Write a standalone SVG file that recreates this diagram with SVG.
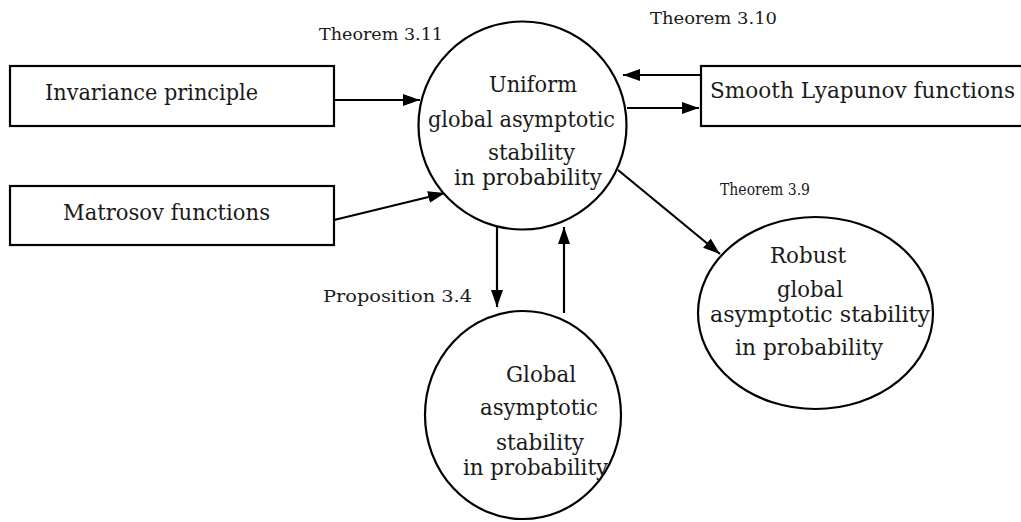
<svg xmlns="http://www.w3.org/2000/svg" width="1021" height="522" viewBox="0 0 1021 522">
<style>
.node{fill:#fff;stroke:#000;stroke-width:2.2}
.t{font-family:"DejaVu Serif","Liberation Serif",serif;font-size:23px;fill:#1a1a1a}
.l{font-family:"DejaVu Serif","Liberation Serif",serif;font-size:16px;fill:#1a1a1a}
.e{fill:none;stroke:#000;stroke-width:2.2}
</style>
<defs>
<marker id="ah" markerUnits="userSpaceOnUse" markerWidth="17" markerHeight="12" refX="17" refY="6" orient="auto">
<path d="M0,0 L17,6 L0,12 z" fill="#000"/>
</marker>
</defs>
<rect width="1021" height="522" fill="#fff"/>
<g id="connectors">
<line class="e" x1="334" y1="100" x2="420" y2="100" marker-end="url(#ah)"/>
<line class="e" x1="334" y1="220" x2="445" y2="193" marker-end="url(#ah)"/>
<line class="e" x1="701" y1="75" x2="623" y2="75" marker-end="url(#ah)"/>
<line class="e" x1="627" y1="108" x2="699" y2="108" marker-end="url(#ah)"/>
<line class="e" x1="618" y1="170" x2="720" y2="254" marker-end="url(#ah)"/>
<line class="e" x1="497" y1="227" x2="497" y2="307" marker-end="url(#ah)"/>
<line class="e" x1="564" y1="313" x2="564" y2="227" marker-end="url(#ah)"/>
</g>
<g id="labels">
<text class="l" x="319" y="40" textLength="124" lengthAdjust="spacingAndGlyphs">Theorem 3.11</text>
<text class="l" x="650" y="24" textLength="127" lengthAdjust="spacingAndGlyphs">Theorem 3.10</text>
<text class="l" x="720" y="195" textLength="90" lengthAdjust="spacingAndGlyphs">Theorem 3.9</text>
<text class="l" x="323" y="302" textLength="149" lengthAdjust="spacingAndGlyphs">Proposition 3.4</text>
</g>
<g id="invariance">
<rect class="node" x="10" y="66" width="324" height="60"/>
<text class="t" x="45" y="100" textLength="213" lengthAdjust="spacingAndGlyphs">Invariance principle</text>
</g>
<g id="matrosov">
<rect class="node" x="10" y="186" width="324" height="59"/>
<text class="t" x="63" y="220" textLength="207" lengthAdjust="spacingAndGlyphs">Matrosov functions</text>
</g>
<g id="smooth">
<rect class="node" x="701" y="66" width="321" height="60"/>
<text class="t" x="710" y="98" textLength="305" lengthAdjust="spacingAndGlyphs">Smooth Lyapunov functions</text>
</g>
<g id="ugas">
<circle class="node" cx="522.5" cy="125.5" r="104"/>
<text class="t" x="489" y="92" textLength="88" lengthAdjust="spacingAndGlyphs">Uniform</text>
<text class="t" x="428" y="127" textLength="187" lengthAdjust="spacingAndGlyphs">global asymptotic</text>
<text class="t" x="488" y="160" textLength="87" lengthAdjust="spacingAndGlyphs">stability</text>
<text class="t" x="454" y="185" textLength="148" lengthAdjust="spacingAndGlyphs">in probability</text>
</g>
<g id="gas">
<ellipse class="node" cx="523" cy="415" rx="98" ry="104"/>
<text class="t" x="506" y="382" textLength="70" lengthAdjust="spacingAndGlyphs">Global</text>
<text class="t" x="480" y="415" textLength="118" lengthAdjust="spacingAndGlyphs">asymptotic</text>
<text class="t" x="496" y="450" textLength="88" lengthAdjust="spacingAndGlyphs">stability</text>
<text class="t" x="463" y="475" textLength="145" lengthAdjust="spacingAndGlyphs">in probability</text>
</g>
<g id="robust">
<ellipse class="node" cx="815.5" cy="313" rx="117.5" ry="96"/>
<text class="t" x="770" y="263" textLength="76" lengthAdjust="spacingAndGlyphs">Robust</text>
<text class="t" x="777" y="297" textLength="66" lengthAdjust="spacingAndGlyphs">global</text>
<text class="t" x="710" y="322" textLength="220" lengthAdjust="spacingAndGlyphs">asymptotic  stability</text>
<text class="t" x="735" y="355" textLength="148" lengthAdjust="spacingAndGlyphs">in probability</text>
</g>
</svg>
